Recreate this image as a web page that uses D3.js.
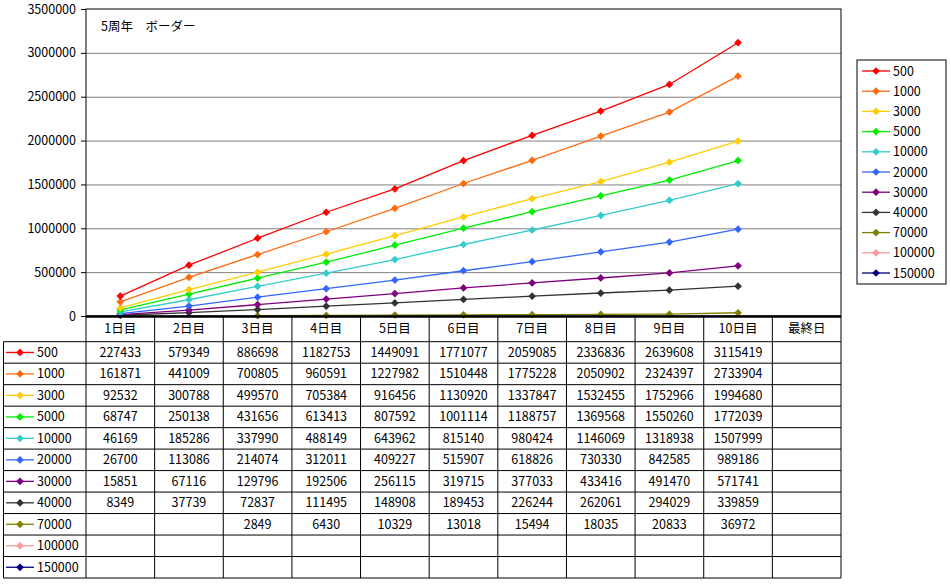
<!DOCTYPE html>
<html lang="ja">
<head>
    <meta charset="UTF-8">
    <title>5周年 ボーダー</title>
    <script type="text/javascript" src="https://cdnjs.cloudflare.com/ajax/libs/d3/7.8.5/d3.min.js"></script>
    <style>
        body { margin: 0; background: #fff; }
        svg text { font-family: "Noto Sans CJK JP", "Noto Sans", sans-serif; font-size: 12.5px; fill: #000; }
    </style>
</head>
<body>
<svg id="chart" width="951" height="585"></svg>

<script type="text/javascript">
    const days = ["1日目", "2日目", "3日目", "4日目", "5日目", "6日目", "7日目", "8日目", "9日目", "10日目", "最終日"];
    const ranks = ["500", "1000", "3000", "5000", "10000", "20000", "30000", "40000", "70000", "100000", "150000"];
    const colors = ["#ff0000", "#ff6a10", "#ffcc00", "#00ee00", "#33cccc", "#3366ff", "#800080", "#333333", "#808000", "#ff9999", "#000080"];
    const yTicks = [0, 500000, 1000000, 1500000, 2000000, 2500000, 3000000, 3500000];

    // one array per rank, null = no data for that day
    const b500 = [227433, 579349, 886698, 1182753, 1449091, 1771077, 2059085, 2336836, 2639608, 3115419, null];
    const b1000 = [161871, 441009, 700805, 960591, 1227982, 1510448, 1775228, 2050902, 2324397, 2733904, null];
    const b3000 = [92532, 300788, 499570, 705384, 916456, 1130920, 1337847, 1532455, 1752966, 1994680, null];
    const b5000 = [68747, 250138, 431656, 613413, 807592, 1001114, 1188757, 1369568, 1550260, 1772039, null];
    const b10000 = [46169, 185286, 337990, 488149, 643962, 815140, 980424, 1146069, 1318938, 1507999, null];
    const b20000 = [26700, 113086, 214074, 312011, 409227, 515907, 618826, 730330, 842585, 989186, null];
    const b30000 = [15851, 67116, 129796, 192506, 256115, 319715, 377033, 433416, 491470, 571741, null];
    const b40000 = [8349, 37739, 72837, 111495, 148908, 189453, 226244, 262061, 294029, 339859, null];
    const b70000 = [null, null, 2849, 6430, 10329, 13018, 15494, 18035, 20833, 36972, null];
    const b100000 = [null, null, null, null, null, null, null, null, null, null, null];
    const b150000 = [null, null, null, null, null, null, null, null, null, null, null];

    const series = [b500, b1000, b3000, b5000, b10000, b20000, b30000, b40000, b70000, b100000, b150000]
        .map(function(vals, i) {
            return { name: ranks[i], color: colors[i], values: vals };
        });

    const svg = d3.select("#chart");
    const plotLeft = 86, plotRight = 841, plotTop = 9, plotBottom = 316;
    const tableTop = 341.7, tableBottom = 578, tableLeft = 3.5;

    const x = d3.scaleBand().domain(days).range([plotLeft, plotRight]);
    const y = d3.scaleLinear().domain([0, 3500000]).range([plotBottom, plotTop]);
    const row = d3.scaleBand().domain(ranks).range([tableTop, tableBottom]);

    // gridlines
    svg.append("g")
        .attr("transform", "translate(" + plotLeft + ",0)")
        .call(d3.axisLeft(y).tickValues(yTicks.slice(1, -1)).tickSize(-(plotRight - plotLeft)).tickFormat(""))
        .call(function(g) {
            g.select(".domain").remove();
            g.selectAll("line").attr("stroke", "#808080").attr("stroke-width", 1);
        });

    // y axis
    svg.append("g")
        .attr("transform", "translate(" + plotLeft + ",0)")
        .call(d3.axisLeft(y).tickValues(yTicks).tickSize(5).tickPadding(5).tickFormat(d3.format("d")))
        .call(function(g) {
            g.select(".domain").remove();
            g.selectAll("line").attr("stroke", "#000");
            g.selectAll("text").attr("font-size", null).attr("font-family", null);
        });

    // plot border
    svg.append("rect")
        .attr("x", plotLeft).attr("y", plotTop)
        .attr("width", plotRight - plotLeft).attr("height", plotBottom - plotTop)
        .attr("fill", "none").attr("stroke", "#000");

    svg.append("text")
        .attr("x", 101).attr("y", 31)
        .text("5周年　ボーダー");

    const line = d3.line()
        .defined(function(d) { return d != null; })
        .x(function(d, i) { return x(days[i]) + x.bandwidth() / 2; })
        .y(function(d) { return y(d); });

    // square turned 45 degrees, like the Excel diamond marker
    const diamond = d3.symbol().type(d3.symbolSquare).size(30);

    // draw from smallest to largest so the top lines sit above
    const drawn = series.slice().reverse();
    svg.append("g").selectAll("path")
        .data(drawn)
        .join("path")
        .attr("d", function(s) { return line(s.values); })
        .attr("fill", "none")
        .attr("stroke", function(s) { return s.color; })
        .attr("stroke-width", 1.3);

    svg.append("g").selectAll("g")
        .data(drawn)
        .join("g")
        .attr("fill", function(s) { return s.color; })
        .selectAll("path")
        .data(function(s) {
            return s.values.map(function(v, i) { return { v: v, day: days[i] }; })
                .filter(function(d) { return d.v != null; });
        })
        .join("path")
        .attr("d", diamond)
        .attr("transform", function(d) {
            return "translate(" + (x(d.day) + x.bandwidth() / 2) + "," + y(d.v) + ") rotate(45)";
        });

    // data table
    const table = svg.append("g");

    // header row
    table.selectAll(".hdr")
        .data(days)
        .join("text")
        .attr("x", function(d) { return x(d) + x.bandwidth() / 2; })
        .attr("y", (plotBottom + tableTop) / 2 + 4.5)
        .attr("text-anchor", "middle")
        .text(function(d) { return d; });

    // cell values
    series.forEach(function(s) {
        table.append("g").selectAll("text")
            .data(s.values)
            .join("text")
            .attr("x", function(d, i) { return x(days[i]) + x.bandwidth() / 2; })
            .attr("y", row(s.name) + row.bandwidth() / 2 + 4.5)
            .attr("text-anchor", "middle")
            .text(function(d) { return d == null ? "" : d; });
    });

    // legend keys in the table
    const keys = table.append("g").selectAll("g")
        .data(series)
        .join("g")
        .attr("transform", function(s) { return "translate(0," + (row(s.name) + row.bandwidth() / 2) + ")"; });
    keys.append("line")
        .attr("x1", 6).attr("x2", 34)
        .attr("stroke", function(s) { return s.color; })
        .attr("stroke-width", 1.3);
    keys.append("path")
        .attr("d", diamond)
        .attr("transform", "translate(20,0) rotate(45)")
        .attr("fill", function(s) { return s.color; });
    keys.append("text")
        .attr("x", 37).attr("y", 4.5)
        .text(function(s) { return s.name; });

    // grid of the table
    const grid = table.append("g").attr("stroke", "#000").attr("stroke-width", 1);
    grid.selectAll(".v")
        .data(days.concat(["end"]))
        .join("line")
        .attr("x1", function(d) { return d === "end" ? plotRight : x(d); })
        .attr("x2", function(d) { return d === "end" ? plotRight : x(d); })
        .attr("y1", plotBottom).attr("y2", tableBottom);
    grid.append("line")
        .attr("x1", tableLeft).attr("x2", tableLeft)
        .attr("y1", tableTop).attr("y2", tableBottom);
    grid.selectAll(".h")
        .data(ranks.concat(["end"]))
        .join("line")
        .attr("x1", tableLeft).attr("x2", plotRight)
        .attr("y1", function(d) { return d === "end" ? tableBottom : row(d); })
        .attr("y2", function(d) { return d === "end" ? tableBottom : row(d); });

    // thick category axis line
    svg.append("line")
        .attr("x1", plotLeft).attr("x2", plotRight)
        .attr("y1", plotBottom + 0.5).attr("y2", plotBottom + 0.5)
        .attr("stroke", "#000").attr("stroke-width", 2.5);

    // legend box
    const legendX = 857, legendY = 60, legendStep = 20.2;
    svg.append("rect")
        .attr("x", legendX).attr("y", legendY)
        .attr("width", 89).attr("height", 224)
        .attr("fill", "#fff").attr("stroke", "#000");
    const leg = svg.append("g").selectAll("g")
        .data(series)
        .join("g")
        .attr("transform", function(s, i) { return "translate(" + legendX + "," + (legendY + 11 + i * legendStep) + ")"; });
    leg.append("line")
        .attr("x1", 5).attr("x2", 33)
        .attr("stroke", function(s) { return s.color; })
        .attr("stroke-width", 1.3);
    leg.append("path")
        .attr("d", diamond)
        .attr("transform", "translate(19,0) rotate(45)")
        .attr("fill", function(s) { return s.color; });
    leg.append("text")
        .attr("x", 36).attr("y", 4.5)
        .text(function(s) { return s.name; });
</script>

</body>
</html>
